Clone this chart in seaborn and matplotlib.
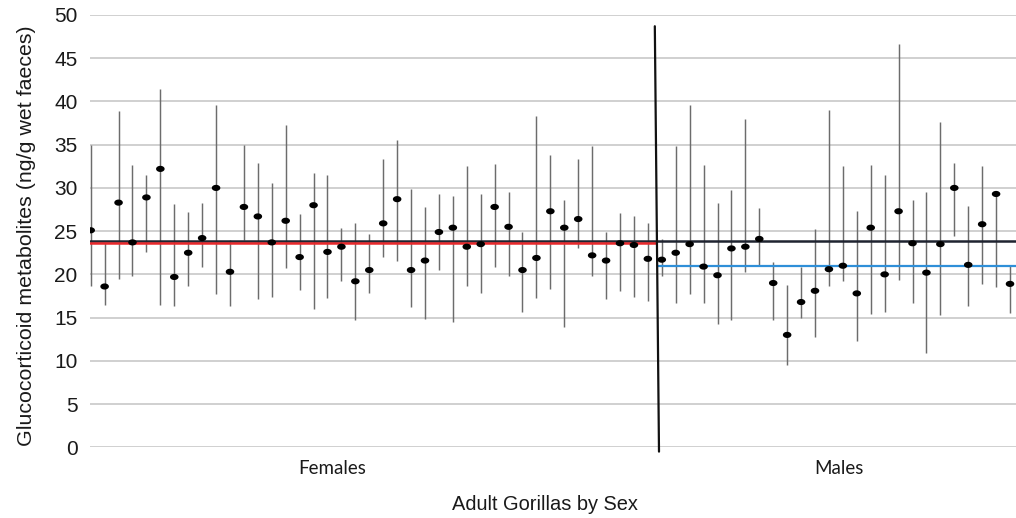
import numpy as np
import pandas as pd
import matplotlib
matplotlib.use("Agg")
import matplotlib.pyplot as plt
from matplotlib.path import Path
import seaborn as sns

# ---- data ----
female_mean = [25.1, 18.6, 28.3, 23.7, 28.9, 32.2, 19.7, 22.5, 24.2, 30.0,
               20.3, 27.8, 26.7, 23.7, 26.2, 22.0, 28.0, 22.6, 23.2, 19.2,
               20.5, 25.9, 28.7, 20.5, 21.6, 24.9, 25.4, 23.2, 23.5, 27.8,
               25.5, 20.5, 21.9, 27.3, 25.4, 26.4, 22.2, 21.6, 23.6, 23.4, 21.8]
female_high = [35.0, 23.6, 38.9, 32.7, 31.5, 41.4, 28.1, 27.2, 28.3, 39.6,
               24.0, 35.0, 32.9, 30.6, 37.3, 27.0, 31.7, 31.5, 25.4, 25.9,
               24.7, 33.3, 35.5, 29.9, 27.8, 29.3, 29.1, 32.5, 29.3, 32.8,
               29.5, 24.9, 38.3, 33.8, 28.6, 33.3, 34.9, 24.9, 27.1, 26.7, 25.9]
female_low = [18.6, 16.5, 19.5, 19.8, 22.6, 16.5, 16.4, 18.7, 20.9, 17.7,
              16.3, 24.0, 17.1, 17.4, 20.7, 18.2, 16.0, 17.3, 19.2, 14.7,
              17.9, 22.0, 21.5, 16.2, 14.8, 20.5, 14.5, 18.7, 17.9, 20.8,
              19.8, 15.7, 17.3, 18.3, 13.9, 23.0, 19.8, 17.2, 18.1, 17.4, 16.9]

male_mean = [21.7, 22.5, 23.5, 20.9, 19.9, 23.0, 23.2, 24.1, 19.0, 13.0,
             16.8, 18.1, 20.6, 21.0, 17.8, 25.4, 20.0, 27.3, 23.6, 20.2,
             23.5, 30.0, 21.1, 25.8, 29.3, 18.9]
male_high = [24.1, 34.9, 39.6, 32.6, 28.3, 29.8, 38.0, 27.7, 21.4, 18.8,
             20.9, 25.2, 39.0, 32.5, 27.3, 32.7, 31.5, 46.6, 28.6, 29.5,
             37.6, 32.9, 27.9, 32.5, 29.3, 21.1]
male_low = [19.8, 16.7, 17.7, 16.7, 14.3, 14.7, 20.3, 21.0, 14.7, 9.5,
            14.9, 12.7, 18.6, 19.2, 12.3, 15.4, 15.6, 19.3, 16.7, 10.9,
            15.3, 24.4, 16.4, 18.9, 18.5, 15.5]

overall_mean = 23.9
female_group_mean = 23.6
male_group_mean = 21.0

category_labels = ["Females", "Males"]
y_ticks = [0, 5, 10, 15, 20, 25, 30, 35, 40, 45, 50]

# ---- build table ----
n_f, n_m = len(female_mean), len(male_mean)
df = pd.DataFrame({
    "idx": np.arange(n_f + n_m),
    "mean": female_mean + male_mean,
    "low": female_low + male_low,
    "high": female_high + male_high,
    "sex": ["Female"] * n_f + ["Male"] * n_m,
})

sns.set_theme(style="white")
plt.rcParams["font.family"] = ["Liberation Sans", "DejaVu Sans"]

W, H = 1016, 518
fig = plt.figure(figsize=(W / 100, H / 100), dpi=100)
ax = fig.add_axes([90 / W, (H - 447.3) / H, (W - 90) / W, (447.3 - 15) / H])

x_min, x_max = -0.05, 66.43
ax.set_xlim(x_min, x_max)
ax.set_ylim(0, 50)

# gridlines
for t in y_ticks:
    ax.axhline(t, color="#c4c4c4", lw=1.1, zorder=0)

# error bars
ax.vlines(df["idx"], df["low"], df["high"], color="#6c6c6c", lw=1.05, zorder=2)

# mean lines
split = n_f - 0.45
ax.plot([x_min, x_max], [overall_mean, overall_mean], color="#1f2430", lw=1.8, zorder=3)
ax.plot([x_min, split], [female_group_mean, female_group_mean], color="#e8282b", lw=1.8, zorder=3)
ax.plot([split + 0.2, x_max], [male_group_mean, male_group_mean], color="#2f8fd8", lw=1.6, zorder=3)

# separator
ax.plot([split - 0.05, split + 0.25], [48.7, -0.5], color="#111111", lw=1.6, zorder=4, clip_on=False)

# points (ellipse marker)
theta = np.linspace(0, 2 * np.pi, 40)
ell = Path(np.column_stack([np.cos(theta), 0.72 * np.sin(theta)]), closed=True)
sns.scatterplot(data=df, x="idx", y="mean", marker=ell, s=38, color="black",
                edgecolor="none", linewidth=0, ax=ax, zorder=5, legend=False)

# axes styling
for sp in ax.spines.values():
    sp.set_visible(False)
ax.set_yticks(y_ticks)
ax.set_yticklabels([str(t) for t in y_ticks], fontsize=15, color="#1a1a1a")
ax.tick_params(axis="y", length=0, pad=9)
ax.set_xticks([])
ax.set_xlabel("")
ax.set_ylabel("Glucocorticoid metabolites (ng/g wet faeces)", fontsize=15.4,
              color="#1a1a1a")
ax.yaxis.set_label_coords(-0.058, 0.489)

# category labels
to_x = lambda px: x_min + (px - 90) / ((W - 90) / (x_max - x_min))
ax.text(to_x(332), -2.5, category_labels[0], ha="center", va="center",
        fontsize=13.5, family=["Lato", "DejaVu Sans"], color="#1a1a1a")
ax.text(to_x(839), -2.5, category_labels[1], ha="center", va="center",
        fontsize=13.5, family=["Lato", "DejaVu Sans"], color="#1a1a1a")
fig.text(545 / W, 1 - 505 / H, "Adult Gorillas by Sex", ha="center", va="center",
         fontsize=14.4, color="#1a1a1a")

fig.savefig("out.png", dpi=100, facecolor="white")
